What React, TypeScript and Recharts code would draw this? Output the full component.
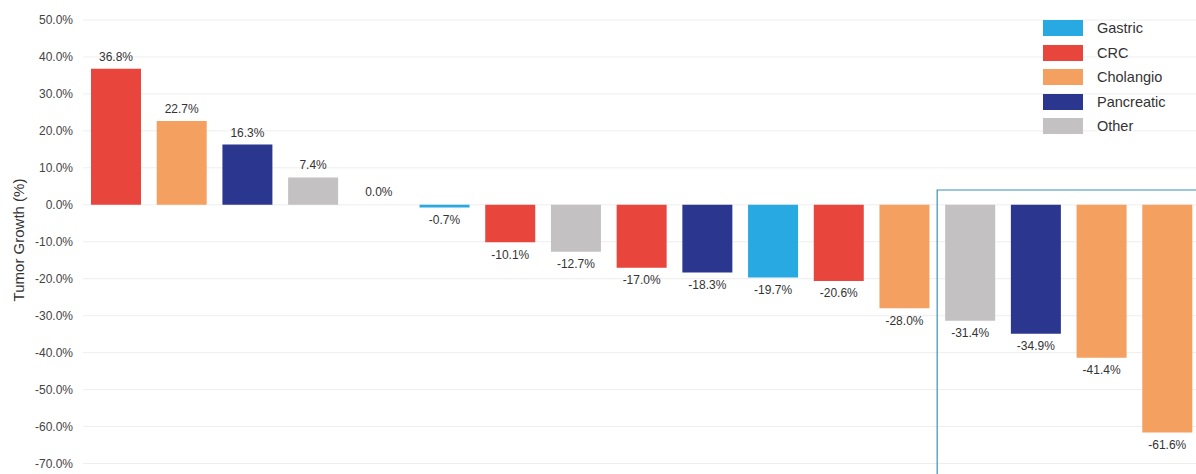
import React from "react";
import { BarChart, Bar, Cell, XAxis, YAxis, CartesianGrid, Legend, LabelList, ReferenceArea } from "recharts";

const patients = ["1", "2", "3", "4", "5", "6", "7", "8", "9", "10", "11", "12", "13", "14", "15", "16", "17"];
const growth = [36.8, 22.7, 16.3, 7.4, 0.0, -0.7, -10.1, -12.7, -17.0, -18.3, -19.7, -20.6, -28.0, -31.4, -34.9, -41.4, -61.6];
const tumorType = ["CRC", "Cholangio", "Pancreatic", "Other", "Other", "Gastric", "CRC", "Other", "CRC", "Pancreatic", "Gastric", "CRC", "Cholangio", "Other", "Pancreatic", "Cholangio", "Cholangio"];
const categories = ["Gastric", "CRC", "Cholangio", "Pancreatic", "Other"];
const yTicks = [50, 40, 30, 20, 10, 0, -10, -20, -30, -40, -50, -60, -70];

const colors: Record<string, string> = {
  Gastric: "#29a9e1",
  CRC: "#e8453c",
  Cholangio: "#f4a060",
  Pancreatic: "#2b378e",
  Other: "#c3c1c2",
};

const data = patients.map((id, i) => ({ id, value: growth[i], type: tumorType[i] }));

const font = "'Liberation Sans', Arial, sans-serif";

const LegendBox = () => (
  <div style={{ fontFamily: font, fontSize: 14.5, color: "#333" }}>
    {categories.map((c) => (
      <div key={c} style={{ display: "flex", alignItems: "center", height: 24.5 }}>
        <span style={{ width: 40, height: 16, background: colors[c], display: "inline-block", marginRight: 14 }} />
        <span>{c}</span>
      </div>
    ))}
  </div>
);

const AxisTitle = (props: any) => {
  const vb = props.viewBox;
  const cx = 18;
  const cy = vb.y + 220;
  return (
    <text x={cx} y={cy} transform={`rotate(-90, ${cx}, ${cy})`} textAnchor="middle" dominantBaseline="central"
      style={{ fontFamily: font, fontSize: 15, fill: "#333" }}>
      Tumor Growth (%)
    </text>
  );
};

export default function App() {
  return (
    <div style={{ position: "absolute", left: 0, top: 0, width: 1196, height: 474, overflow: "hidden", background: "#fff" }}>
      <BarChart width={1205} height={482} data={data} margin={{ top: 20, right: 5, left: 0, bottom: 0 }} barSize={50}>
        <CartesianGrid horizontal vertical={false} stroke="#eeeeee" />
        <XAxis dataKey="id" hide />
        <YAxis
          width={83}
          domain={[-75, 50]}
          ticks={yTicks}
          interval={0}
          axisLine={false}
          tickLine={false}
          tickMargin={4}
          tickFormatter={(v: number) => `${v.toFixed(1)}%`}
          tick={{ fill: "#444", fontSize: 12, fontFamily: font }}
          label={<AxisTitle />}
        />
        <Legend
          layout="horizontal"
          verticalAlign="middle"
          align="center"
          content={<LegendBox />}
          wrapperStyle={{ top: 16, left: 1043, width: 150 }}
        />
        <Bar dataKey="value" isAnimationActive={false} minPointSize={1}>
          {data.map((d) => (
            <Cell key={d.id} fill={d.value === 0 ? "transparent" : colors[d.type]} />
          ))}
          <LabelList
            dataKey="value"
            position="top"
            offset={8}
            formatter={(v: any) => `${Number(v).toFixed(1)}%`}
            style={{ fill: "#333", fontSize: 12, fontFamily: font }}
          />
        </Bar>
        <ReferenceArea x1="14" x2="17" y1={4} y2={-75} fill="none" stroke="#3b90b6" strokeWidth={1.2} fillOpacity={0} />
      </BarChart>
    </div>
  );
}
